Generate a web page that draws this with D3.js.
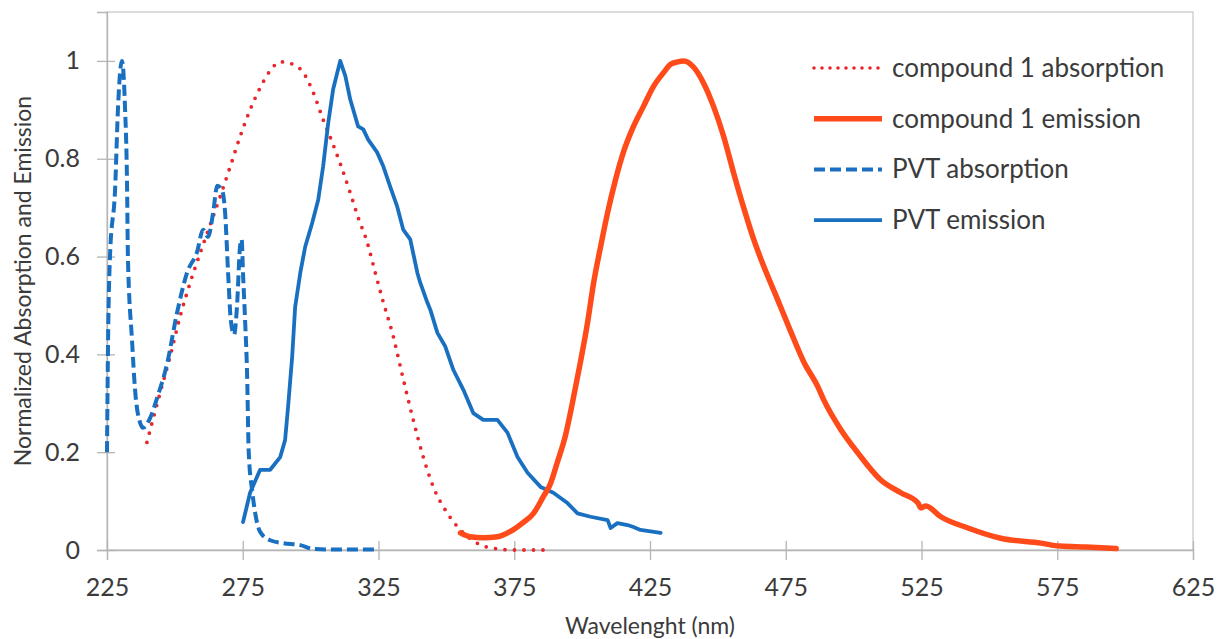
<!DOCTYPE html>
<html>
<head>
<meta charset="utf-8">
<script src="https://cdn.jsdelivr.net/npm/d3@7"></script>
<style>
  body { margin: 0; background: #fff; }
  text { font-family: Lato, "Open Sans", sans-serif; fill: #3b3b3b; }
</style>
</head>
<body>
<script>
// wavelength (nm) and normalized values
const pvtAbsWl = [225, 225.4, 226.1, 228, 229.1, 230.5, 231.6, 232.4, 232.7, 234.2, 235.3, 237.2, 238.3, 240.9, 243.4, 247.1, 250.8, 254.5, 258.2, 260.4, 262.2, 264.1, 265.6, 267.4, 268.5, 269.6, 270.6, 271.8, 272.9, 274, 274.6, 275.1, 275.9, 276.6, 277.2, 278.5, 279.6, 281.4, 285.1, 289.9, 296.2, 301, 310, 325];
const pvtAbsVal = [0.2, 0.43, 0.6, 0.74, 0.91, 1.0, 0.91, 0.74, 0.6, 0.43, 0.33, 0.26, 0.25, 0.27, 0.31, 0.38, 0.485, 0.567, 0.61, 0.655, 0.64, 0.69, 0.745, 0.735, 0.69, 0.567, 0.47, 0.44, 0.5, 0.62, 0.635, 0.565, 0.465, 0.36, 0.2, 0.12, 0.075, 0.037, 0.02, 0.014, 0.01, 0.002, 0.001, 0.001];

const pvtEmWl = [275.1, 277.7, 281.4, 285.1, 288.8, 290.6, 291.7, 293.2, 294.3, 296.2, 298, 300.6, 302.8, 304.6, 306.5, 308.3, 310.9, 312.8, 314.6, 317.5, 319.4, 321.2, 324.5, 326.8, 329.3, 331.9, 334.1, 336.7, 339.3, 340.4, 343, 344.1, 346.7, 349.6, 352.6, 356.3, 359.9, 363.6, 368.8, 372.5, 376.2, 379.9, 384.7, 389.4, 394.6, 398.3, 403.1, 409.4, 410.5, 413, 416.7, 418.9, 421.5, 428.9];
const pvtEmVal = [0.057, 0.117, 0.164, 0.164, 0.19, 0.225, 0.293, 0.395, 0.497, 0.567, 0.62, 0.669, 0.716, 0.784, 0.874, 0.942, 1.0, 0.969, 0.921, 0.866, 0.86, 0.839, 0.813, 0.784, 0.743, 0.702, 0.655, 0.635, 0.567, 0.546, 0.506, 0.491, 0.444, 0.416, 0.368, 0.327, 0.28, 0.266, 0.266, 0.24, 0.19, 0.158, 0.129, 0.117, 0.096, 0.075, 0.068, 0.061, 0.045, 0.055, 0.051, 0.047, 0.041, 0.035];

const cmpAbsWl = [239.7, 241.6, 244.5, 248.2, 251.9, 255.6, 259.3, 263, 266.7, 270.4, 274, 277.7, 281.4, 285.1, 288.8, 293.6, 297.3, 301, 304.6, 308, 310.9, 314.6, 317.5, 320.9, 323.8, 326.8, 330.1, 334.1, 337.8, 341.5, 345.2, 350.4, 356.3, 365.1, 374.7, 387.6];
const cmpAbsVal = [0.22, 0.26, 0.32, 0.395, 0.477, 0.546, 0.607, 0.665, 0.723, 0.784, 0.845, 0.9, 0.945, 0.98, 0.998, 0.993, 0.976, 0.935, 0.88, 0.833, 0.79, 0.73, 0.68, 0.628, 0.567, 0.506, 0.444, 0.35, 0.266, 0.19, 0.129, 0.075, 0.035, 0.006, 0.0, 0.0];

const cmpEmWl = [355.2, 358.8, 363.6, 368.8, 373.6, 378, 382.1, 385.8, 388.3, 390.9, 393.9, 396.4, 399.4, 402, 404.2, 406.8, 409.4, 412.3, 415.3, 418.6, 422.6, 426.3, 430, 432.6, 435.2, 437.4, 441.1, 444.7, 448.4, 452.1, 455.8, 459.5, 463.2, 466.9, 472, 476.8, 481.6, 486.8, 489, 495.3, 501.5, 510, 517.4, 523.7, 524.8, 526.6, 532.1, 542.1, 554.2, 569, 576, 585.6, 596.7];
const cmpEmVal = [0.035, 0.027, 0.025, 0.027, 0.038, 0.055, 0.075, 0.11, 0.135, 0.18, 0.235, 0.3, 0.385, 0.465, 0.545, 0.62, 0.69, 0.757, 0.815, 0.862, 0.907, 0.948, 0.976, 0.993, 0.998, 1.0, 0.987, 0.955, 0.907, 0.846, 0.771, 0.7, 0.635, 0.58, 0.512, 0.447, 0.385, 0.334, 0.307, 0.246, 0.199, 0.143, 0.117, 0.096, 0.086, 0.09, 0.068, 0.045, 0.024, 0.014, 0.008, 0.006, 0.003];

const xTicks = [225, 275, 325, 375, 425, 475, 525, 575, 625];
const yTicks = [0, 0.2, 0.4, 0.6, 0.8, 1];

const seriesNames = ["compound 1 absorption", "compound 1 emission", "PVT absorption", "PVT emission"];
const seriesColors = ["#e8262c", "#ff4a1a", "#1a70c0", "#1a70c0"];

const W = 1217, H = 639;
const margin = { top: 12, right: 24, bottom: 89, left: 107 };
const width = W - margin.left - margin.right;
const height = H - margin.top - margin.bottom;

const x = d3.scaleLinear().domain([225, 625]).range([0, width]);
const y = d3.scaleLinear().domain([0, 1.1]).range([height, 0]);

const svg = d3.select("body")
  .append("svg")
    .attr("width", W)
    .attr("height", H)
  .append("g")
    .attr("transform", `translate(${margin.left},${margin.top})`);

// plot frame
svg.append("rect")
  .attr("width", width)
  .attr("height", height)
  .attr("fill", "none")
  .attr("stroke", "#c9c9c9")
  .attr("stroke-width", 1.3);

// axes, ticks crossing the axis line like Excel
const xAxis = svg.append("g")
  .attr("transform", `translate(0,${height})`)
  .call(d3.axisBottom(x).tickValues(xTicks).tickSize(10).tickPadding(18).tickFormat(d3.format("d")));
xAxis.selectAll(".tick line").attr("y1", -9);

const yAxis = svg.append("g")
  .call(d3.axisLeft(y).tickValues(yTicks).tickSize(10).tickPadding(17).tickFormat(d => d));
yAxis.selectAll(".tick line").attr("x1", 8);

svg.selectAll(".domain").attr("stroke", "#b5b5b5").attr("stroke-width", 1.3);
svg.selectAll(".tick line").attr("stroke", "#b5b5b5").attr("stroke-width", 1.3);
svg.selectAll(".tick text").style("font-size", "25px").attr("fill", "#3b3b3b");

svg.append("text")
  .attr("x", width / 2)
  .attr("y", height + 84)
  .attr("text-anchor", "middle")
  .style("font-size", "23px")
  .text("Wavelenght (nm)");

svg.append("text")
  .attr("transform", `translate(${31 - margin.left},${height / 2}) rotate(-90)`)
  .attr("text-anchor", "middle")
  .style("font-size", "23px")
  .text("Normalized Absorption and Emission");

const line = d3.line()
  .x(d => x(d[0]))
  .y(d => y(d[1]))
  .curve(d3.curveMonotoneX);

const plot = svg.append("g");

plot.append("path")
  .datum(d3.zip(cmpAbsWl, cmpAbsVal))
  .attr("d", line)
  .attr("fill", "none")
  .attr("stroke", seriesColors[0])
  .attr("stroke-width", 3.8)
  .attr("stroke-linecap", "round")
  .attr("stroke-dasharray", "0 9.5");

plot.append("path")
  .datum(d3.zip(pvtAbsWl, pvtAbsVal))
  .attr("d", line)
  .attr("fill", "none")
  .attr("stroke", seriesColors[2])
  .attr("stroke-width", 4)
  .attr("stroke-dasharray", "11 5");

plot.append("path")
  .datum(d3.zip(pvtEmWl, pvtEmVal))
  .attr("d", line.curve(d3.curveLinear))
  .attr("fill", "none")
  .attr("stroke", seriesColors[3])
  .attr("stroke-width", 3.8)
  .attr("stroke-linejoin", "round")
  .attr("stroke-linecap", "round");

plot.append("path")
  .datum(d3.zip(cmpEmWl, cmpEmVal))
  .attr("d", line.curve(d3.curveMonotoneX))
  .attr("fill", "none")
  .attr("stroke", seriesColors[1])
  .attr("stroke-width", 5.5)
  .attr("stroke-linejoin", "round")
  .attr("stroke-linecap", "round");

// legend
const dashes = ["0 8", null, "11 5", null];
const widths = [3.6, 5.5, 4, 3.8];
const legend = svg.append("g")
  .attr("transform", `translate(${812 - margin.left},${68 - margin.top})`);

legend.selectAll(".legend-item")
  .data(seriesNames)
  .enter()
  .append("g")
    .attr("class", "legend-item")
    .each(function(d, i) {
      const g = d3.select(this);
      g.append("line")
        .attr("x1", 2).attr("x2", 70)
        .attr("y1", i * 50.7).attr("y2", i * 50.7)
        .attr("stroke", seriesColors[i])
        .attr("stroke-width", widths[i])
        .attr("stroke-linecap", i === 0 ? "round" : "butt")
        .attr("stroke-dasharray", dashes[i]);
      g.append("text")
        .attr("x", 80)
        .attr("y", i * 50.7 + 9)
        .style("font-size", "26px")
        .text(d);
    });
</script>
</body>
</html>
